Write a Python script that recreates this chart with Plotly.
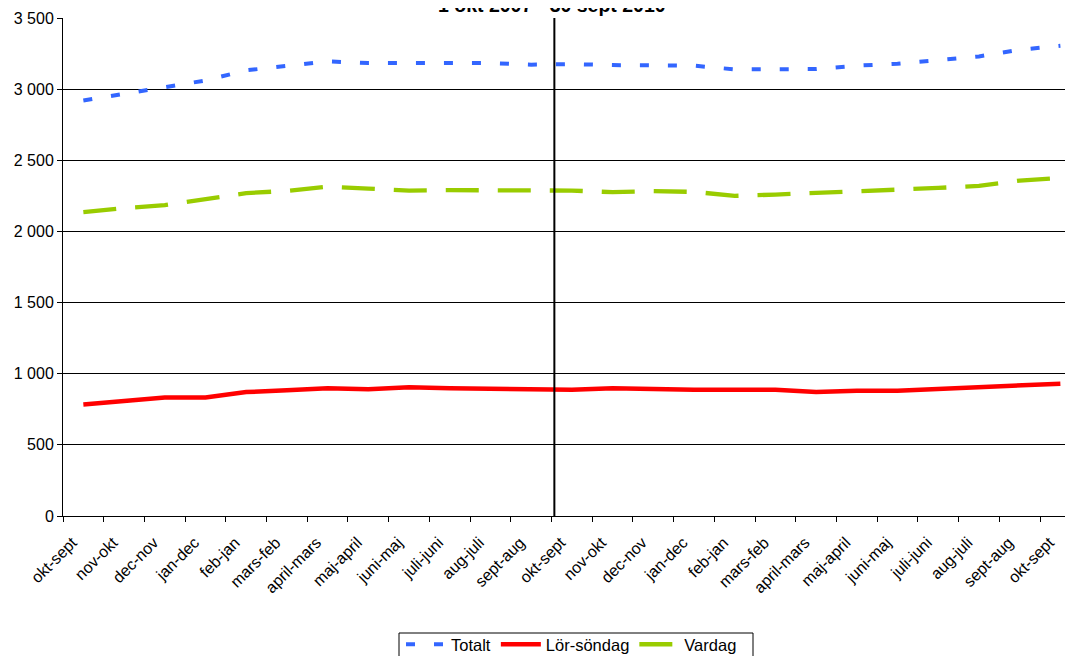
import plotly.graph_objects as go

categories = ["okt-sept", "nov-okt", "dec-nov", "jan-dec", "feb-jan", "mars-feb",
              "april-mars", "maj-april", "juni-maj", "juli-juni", "aug-juli", "sept-aug",
              "okt-sept", "nov-okt", "dec-nov", "jan-dec", "feb-jan", "mars-feb",
              "april-mars", "maj-april", "juni-maj", "juli-juni", "aug-juli", "sept-aug",
              "okt-sept"]

totalt = [2920, 2965, 3012, 3061, 3132, 3165, 3195, 3183, 3183, 3183, 3183, 3172,
          3176, 3169, 3169, 3165, 3139, 3141, 3141, 3165, 3179, 3204, 3230, 3277, 3305]

lor_sondag = [784, 805, 833, 833, 871, 883, 897, 890, 904, 897, 894, 897,
              887, 897, 890, 887, 887, 887, 871, 880, 880, 894, 908, 920, 930]

vardag = [2135, 2164, 2185, 2229, 2269, 2285, 2315, 2301, 2287, 2290, 2287, 2283,
          2287, 2276, 2283, 2278, 2250, 2259, 2273, 2283, 2294, 2306, 2320, 2357, 2376]

y_ticks = [0, 500, 1000, 1500, 2000, 2500, 3000, 3500]
y_tick_labels = ["0", "500", "1 000", "1 500", "2 000", "2 500", "3 000", "3 500"]

title_text = "1 okt 2007 - 30 sept 2010"

x = list(range(len(categories)))
FONT = "Liberation Sans, Arial, sans-serif"

W, H = 1065, 648
ML, MT, MB = 55, 10, 140
plot_h = H - MT - MB
plot_w = W - ML


def px_x(fx):  # figure px -> paper x
    return (fx - ML) / plot_w


def px_y(fy):  # figure px -> paper y
    return (H - MB - fy) / plot_h


fig = go.Figure()
fig.add_trace(go.Scatter(x=x, y=totalt, mode="lines", name="Totalt",
                         line=dict(color="#3366FF", width=4, dash="9px,19px")))
fig.add_trace(go.Scatter(x=x, y=lor_sondag, mode="lines", name="Lör-söndag",
                         line=dict(color="#FF0000", width=4.5)))
fig.add_trace(go.Scatter(x=x, y=vardag, mode="lines", name="Vardag",
                         line=dict(color="#99CC00", width=4.3, dash="33px,19px")))

# vertical separator line between the two periods
fig.add_shape(type="line", xref="x", yref="paper", x0=11.57, x1=11.57, y0=0, y1=1,
              line=dict(color="black", width=2), layer="above")

# legend frame
fig.add_shape(type="rect", xref="paper", yref="paper",
              x0=px_x(391), x1=px_x(745), y0=px_y(625), y1=px_y(670),
              line=dict(color="black", width=1), fillcolor="rgba(0,0,0,0)", layer="above")

fig.add_annotation(text="<b>" + title_text + "</b>", xref="paper", yref="paper",
                   x=px_x(544), xanchor="center",
                   y=1 + 13 / plot_h, yanchor="middle", showarrow=False,
                   font=dict(family=FONT, size=19.5, color="black"))

fig.update_layout(
    width=W, height=H,
    margin=dict(l=ML, r=0, t=MT, b=MB),
    paper_bgcolor="white", plot_bgcolor="white",
    font=dict(family=FONT, size=16, color="black"),
    showlegend=True,
    legend=dict(orientation="h", xref="container", yref="container",
                x=393 / W, xanchor="left", y=1 - 619 / H, yanchor="top",
                borderwidth=0, bgcolor="rgba(0,0,0,0)",
                font=dict(family=FONT, size=16.5, color="black"),
                itemwidth=40, tracegroupgap=0),
    xaxis=dict(range=[-0.5, 24.31], tickmode="array", tickvals=x, ticktext=categories,
               tickangle=-45, ticks="", showgrid=False, zeroline=False,
               showline=True, linecolor="black", linewidth=1,
               ticklabelshift=-11, ticklabelstandoff=10,
               tickfont=dict(family=FONT, size=16, color="black"),
               minor=dict(tickmode="linear", tick0=-0.5, dtick=1, ticks="outside",
                          ticklen=5, tickcolor="black", tickwidth=1, showgrid=False)),
    yaxis=dict(range=[0, 3500], tickmode="array", tickvals=y_ticks, ticktext=y_tick_labels,
               ticks="outside", ticklen=5, tickcolor="black", tickwidth=1,
               showgrid=True, gridcolor="black", gridwidth=1, zeroline=False,
               showline=True, linecolor="black", linewidth=1,
               tickfont=dict(family=FONT, size=16, color="black")),
)

fig.write_html("out.html")
